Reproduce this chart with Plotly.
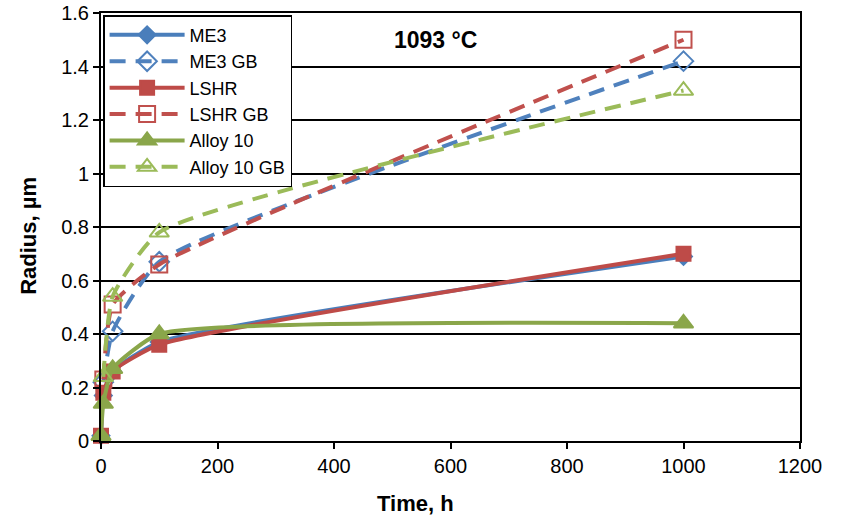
import plotly.graph_objects as go

# Data (time in h, radius in µm)
t_solid = [0, 4, 20, 100, 1000]
me3 = [0.02, 0.17, 0.26, 0.37, 0.69]
lshr = [0.02, 0.18, 0.26, 0.36, 0.70]
alloy10 = [0.02, 0.14, 0.27, 0.40, 0.44]

t_gb = [4, 20, 100, 1000]
me3_gb = [0.22, 0.41, 0.67, 1.42]
lshr_gb = [0.23, 0.51, 0.66, 1.50]
alloy10_gb = [0.24, 0.54, 0.78, 1.31]

series = [
    ("ME3", t_solid, me3, "#4a7ebb", "solid", "diamond", 13),
    ("ME3 GB", t_gb, me3_gb, "#4f81bd", "16px,10px", "diamond-open", 15),
    ("LSHR", t_solid, lshr, "#be4b48", "solid", "square", 14),
    ("LSHR GB", t_gb, lshr_gb, "#c0504d", "16px,10px", "square-open", 16),
    ("Alloy 10", t_solid, alloy10, "#8aa64a", "solid", "triangle-up", 17),
    ("Alloy 10 GB", t_gb, alloy10_gb, "#9bbb59", "16px,10px", "triangle-up-open", 17),
]

fig = go.Figure()
for name, x, y, color, dash, sym, size in series:
    fig.add_trace(go.Scatter(
        x=x, y=y, name=name, mode="lines+markers",
        line=dict(color=color, width=4, dash=dash, shape="spline", smoothing=0.5),
        marker=dict(symbol=sym, size=size, color=color,
                    line=dict(color=color, width=2)),
        cliponaxis=False,
    ))

font_family = "Liberation Sans, Arial, sans-serif"
fig.update_layout(
    width=841, height=523,
    margin=dict(l=101, r=41, t=13, b=82, autoexpand=False),
    paper_bgcolor="white", plot_bgcolor="white",
    font=dict(family=font_family, size=20, color="black"),
    showlegend=True,
    legend=dict(
        x=0.003, y=0.995, xanchor="left", yanchor="top",
        bgcolor="white", bordercolor="black", borderwidth=1.5,
        font=dict(size=18), tracegroupgap=0, itemwidth=75,
    ),
    xaxis=dict(
        range=[0, 1200], dtick=200, tick0=0, automargin=False,
        showgrid=False, zeroline=False,
        showline=True, linecolor="black", linewidth=2, mirror=True,
        ticks="outside", ticklen=6, tickcolor="black", tickwidth=1.5,
    ),
    yaxis=dict(
        range=[0, 1.6], dtick=0.2, tick0=0, automargin=False,
        showgrid=True, gridcolor="black", gridwidth=1.5,
        zeroline=False,
        showline=True, linecolor="black", linewidth=2, mirror=True,
        ticks="outside", ticklen=6, tickcolor="black", tickwidth=1.5,
        tickformat="~g",
    ),
    annotations=[
        dict(text="<b>1093 °C</b>", x=0.478, y=0.937, xref="paper", yref="paper",
             xanchor="center", yanchor="middle",
             showarrow=False, font=dict(size=23, family=font_family)),
        dict(text="<b>Time, h</b>", x=0.45, y=-0.145, xref="paper", yref="paper",
             xanchor="center", yanchor="middle",
             showarrow=False, font=dict(size=22, family=font_family)),
        dict(text="<b>Radius, µm</b>", x=-0.104, y=0.48, xref="paper", yref="paper",
             xanchor="center", yanchor="middle", textangle=-90,
             showarrow=False, font=dict(size=22, family=font_family)),
    ],
)

fig.write_html("out.html")
